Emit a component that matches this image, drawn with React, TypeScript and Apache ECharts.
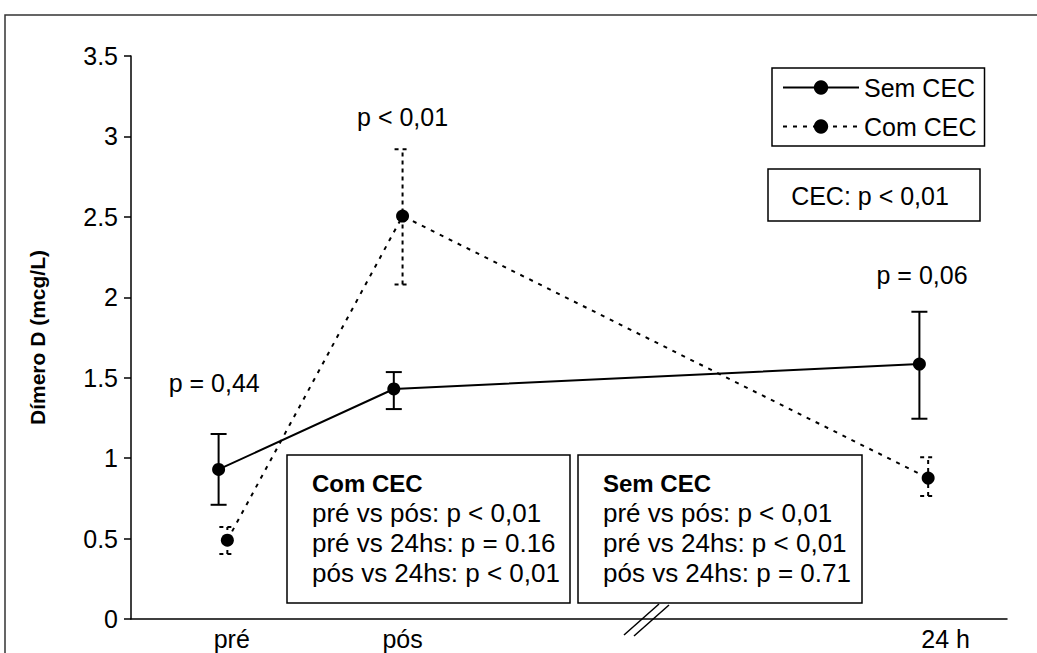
import React, { useEffect, useRef } from "react";
import * as echarts from "echarts";

const FONT = "'Liberation Sans', Arial, sans-serif";

const seriesNames = ["Sem CEC", "Com CEC"];
const xLabels = ["pré", "pós", "24 h"];
const xLabelPositions = [1.15, 3.1, 9.3];

const semX = [1.0, 3.0, 9.0];
const semMean = [0.93, 1.43, 1.585];
const semLow = [0.71, 1.305, 1.245];
const semHigh = [1.15, 1.535, 1.91];

const comX = [1.1, 3.1, 9.1];
const comMean = [0.49, 2.505, 0.876];
const comLow = [0.404, 2.08, 0.765];
const comHigh = [0.572, 2.92, 1.005];

const pLabels = ["p = 0,44", "p < 0,01", "p = 0,06"];
const pLabelX = [0.95, 3.1, 9.03];
const pLabelY = [1.47, 3.12, 2.14];

const cecNote = "CEC: p < 0,01";
const comCecTitle = "Com CEC";
const comCecLines = ["pré vs pós: p < 0,01", "pré vs 24hs: p = 0.16", "pós vs 24hs: p < 0,01"];
const semCecTitle = "Sem CEC";
const semCecLines = ["pré vs pós: p < 0,01", "pré vs 24hs: p < 0,01", "pós vs 24hs: p = 0.71"];

function errorBars(xs: number[], lo: number[], hi: number[], dash: number[] | null, z: number) {
  return {
    type: "custom",
    z,
    silent: true,
    data: xs.map((x, i) => [x, lo[i], hi[i]]),
    encode: { x: 0, y: [1, 2] },
    renderItem: (_params: any, api: any) => {
      const x = api.value(0);
      const pLo = api.coord([x, api.value(1)]);
      const pHi = api.coord([x, api.value(2)]);
      const hw = 8;
      const style: any = { stroke: "#000", lineWidth: 2, fill: null };
      if (dash) style.lineDash = dash;
      return {
        type: "group",
        children: [
          { type: "line", shape: { x1: pLo[0], y1: pLo[1], x2: pHi[0], y2: pHi[1] }, style },
          { type: "line", shape: { x1: pLo[0] - hw, y1: pLo[1], x2: pLo[0] + hw, y2: pLo[1] }, style },
          { type: "line", shape: { x1: pHi[0] - hw, y1: pHi[1], x2: pHi[0] + hw, y2: pHi[1] }, style },
        ],
      };
    },
  };
}

function statBox(x: number, y: number, w: number, h: number, title: string, lines: string[]) {
  const children: any[] = [
    { type: "rect", shape: { x: 0, y: 0, width: w, height: h }, style: { fill: "#fff", stroke: "#000", lineWidth: 1.5 } },
    {
      type: "text",
      x: 25,
      y: 28,
      style: { text: title, font: `bold 24px ${FONT}`, fill: "#000", textVerticalAlign: "middle" },
    },
  ];
  lines.forEach((t, i) => {
    children.push({
      type: "text",
      x: 25,
      y: 58 + i * 30,
      style: { text: t, font: `26px ${FONT}`, fill: "#000", textVerticalAlign: "middle" },
    });
  });
  return { type: "group", x, y, children };
}

export default function App() {
  const ref = useRef<HTMLDivElement>(null);
  useEffect(() => {
    if (!ref.current) return;
    const chart = echarts.init(ref.current, undefined, { renderer: "svg" });
    const option: any = {
      animation: false,
      backgroundColor: "#fff",
      textStyle: { fontFamily: FONT },
      grid: { left: 131, right: 30, top: 56, bottom: 34, containLabel: false },
      legend: {
        data: seriesNames,
        orient: "vertical",
        left: 772,
        top: 68,
        padding: [7, 8, 7, 10],
        itemGap: 14,
        itemWidth: 76,
        itemHeight: 18,
        borderColor: "#000",
        borderWidth: 1.5,
        backgroundColor: "#fff",
        textStyle: { fontSize: 25, color: "#000", fontFamily: FONT },
      },
      xAxis: {
        type: "value",
        min: 0,
        max: 10,
        interval: 0.05,
        splitLine: { show: false },
        axisTick: { show: false },
        axisLine: { lineStyle: { color: "#000", width: 1.5 } },
        axisLabel: {
          margin: 7,
          fontSize: 25,
          color: "#000",
          fontFamily: FONT,
          showMinLabel: true,
          showMaxLabel: true,
          formatter: (v: number) => {
            const i = xLabelPositions.findIndex((p) => Math.abs(p - v) < 1e-6);
            return i >= 0 ? xLabels[i] : "";
          },
        },
      },
      yAxis: {
        type: "value",
        min: 0,
        max: 3.5,
        interval: 0.5,
        name: "Dímero D (mcg/L)",
        nameLocation: "middle",
        nameGap: 83,
        nameTextStyle: { fontWeight: "bold", fontSize: 21, color: "#000", fontFamily: FONT },
        splitLine: { show: false },
        axisLine: { show: true, lineStyle: { color: "#000", width: 1.5 } },
        axisTick: { show: true, length: 7, lineStyle: { color: "#000", width: 1.5 } },
        axisLabel: { margin: 13, fontSize: 25, color: "#000", fontFamily: FONT },
      },
      series: [
        errorBars(semX, semLow, semHigh, null, 2),
        errorBars(comX, comLow, comHigh, [4, 4], 2),
        {
          name: "Sem CEC",
          type: "line",
          z: 3,
          data: semX.map((x, i) => [x, semMean[i]]),
          symbol: "circle",
          symbolSize: 13,
          itemStyle: { color: "#000" },
          lineStyle: { color: "#000", width: 2, type: "solid" },
        },
        {
          name: "Com CEC",
          type: "line",
          z: 3,
          data: comX.map((x, i) => [x, comMean[i]]),
          symbol: "circle",
          symbolSize: 13,
          itemStyle: { color: "#000" },
          lineStyle: { color: "#000", width: 2, type: [4, 6] },
        },
        {
          name: "p",
          type: "custom",
          silent: true,
          z: 4,
          data: pLabels.map((t, i) => [pLabelX[i], pLabelY[i], i]),
          encode: { x: 0, y: 1 },
          renderItem: (_params: any, api: any) => {
            const pt = api.coord([api.value(0), api.value(1)]);
            return {
              type: "text",
              x: pt[0],
              y: pt[1],
              style: {
                text: pLabels[api.value(2)],
                font: `25px ${FONT}`,
                fill: "#000",
                textAlign: "center",
                textVerticalAlign: "middle",
              },
            };
          },
        },
      ],
      graphic: [
        { type: "rect", shape: { x: 5, y: 15, width: 1200, height: 800 }, style: { fill: null, stroke: "#333", lineWidth: 1.5 }, z: 0 },
        {
          type: "group",
          x: 768,
          y: 169,
          children: [
            { type: "rect", shape: { x: 0, y: 0, width: 212, height: 52 }, style: { fill: "#fff", stroke: "#000", lineWidth: 1.5 } },
            { type: "text", x: 102, y: 27, style: { text: cecNote, font: `25px ${FONT}`, fill: "#000", textAlign: "center", textVerticalAlign: "middle" } },
          ],
        },
        statBox(287, 455, 283, 148, comCecTitle, comCecLines),
        statBox(578, 455, 284, 148, semCecTitle, semCecLines),
        { type: "line", shape: { x1: 624, y1: 635, x2: 659, y2: 604 }, style: { stroke: "#000", lineWidth: 1.5 } },
        { type: "line", shape: { x1: 634, y1: 636, x2: 669, y2: 605 }, style: { stroke: "#000", lineWidth: 1.5 } },
      ],
    };
    chart.setOption(option);
    return () => chart.dispose();
  }, []);
  return <div ref={ref} style={{ position: "absolute", left: 0, top: 0, width: 1037, height: 653 }} />;
}
